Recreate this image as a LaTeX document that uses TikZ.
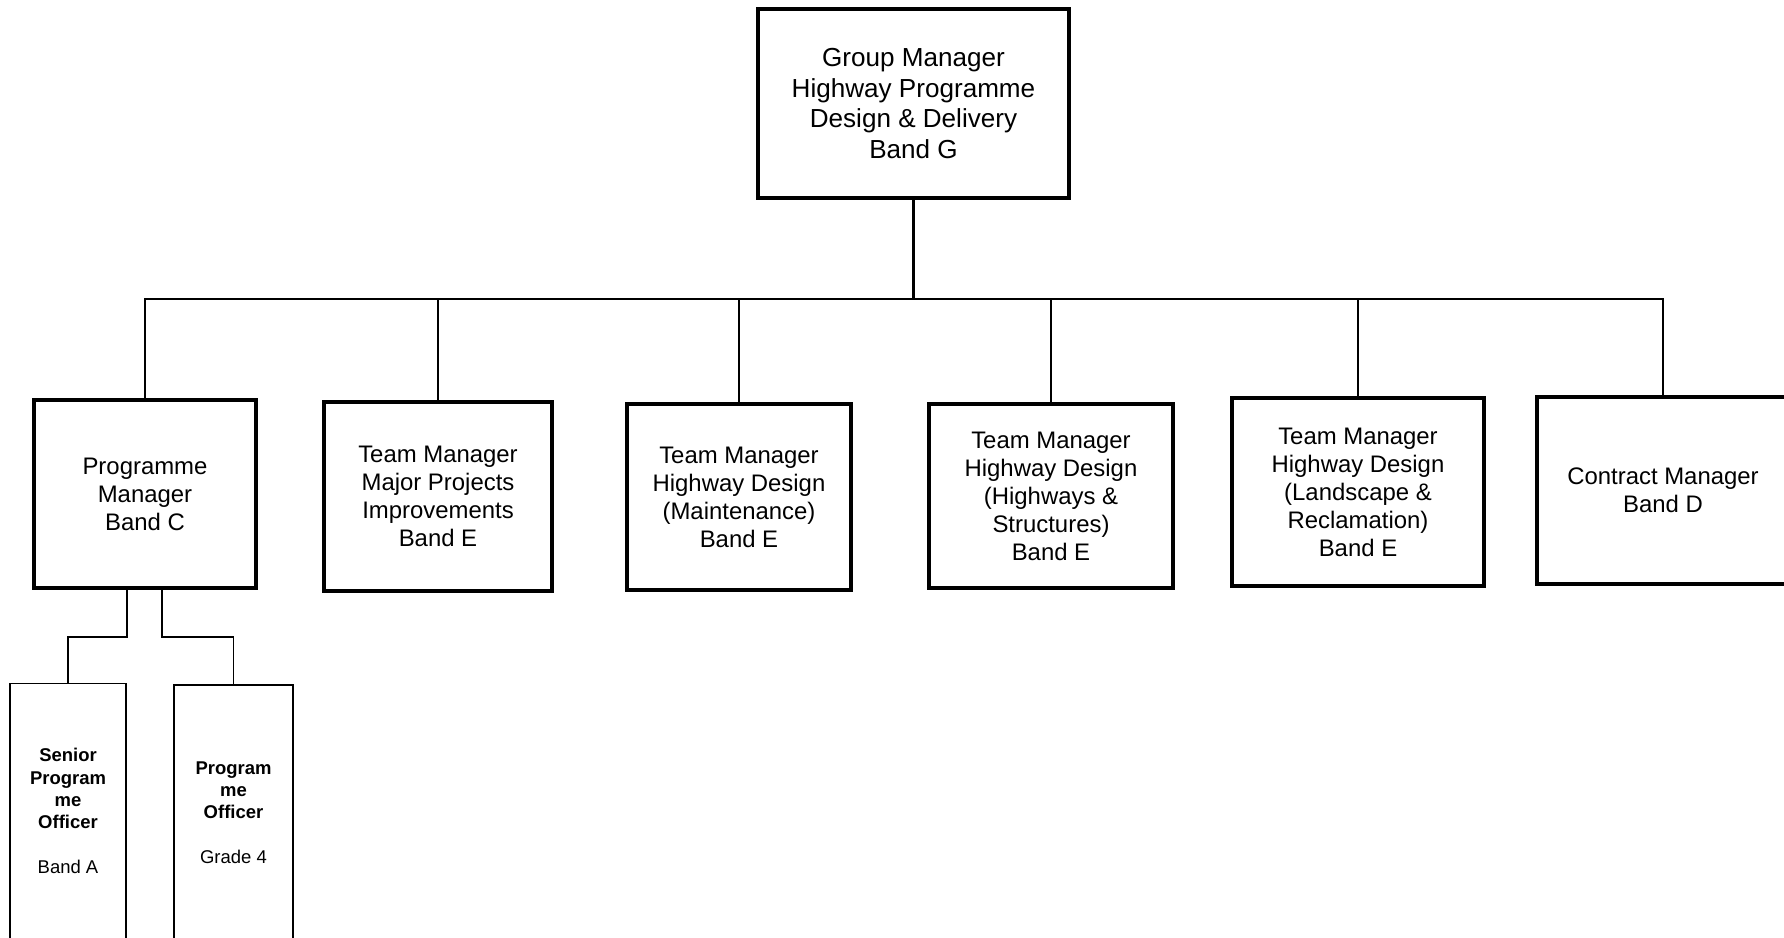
\documentclass[tikz,border=0pt]{standalone}
\usepackage{fontspec}
\setmainfont{Liberation Sans}
\tikzset{
  post/.style={draw, line width=1.9pt, align=center, inner sep=0pt,
    font=\fontsize{11}{12.9}\selectfont},
  subpost/.style={draw, line width=0.9pt, align=center, inner sep=0pt,
    font=\fontsize{8.5}{10.3}\selectfont},
  link/.style={line width=0.7pt}
}
\begin{document}
\begin{tikzpicture}[x=0.46pt, y=-0.46pt]
  \clip (0, 0) rectangle (1784, 937);
  % head of group
  \node[post, minimum width=143.2pt, minimum height=87pt,
    font=\fontsize{12}{14.1}\selectfont] (gm) at (913.5, 103.5)
    {Group Manager\\Highway Programme\\Design \& Delivery\\Band G};
  % second row
  \node[post, minimum width=102.2pt, minimum height=86.5pt] (pm) at (145, 494)
    {Programme\\Manager\\Band C};
  \node[post, minimum width=104.9pt, minimum height=87pt] (tmmp) at (438, 496.5)
    {Team Manager\\Major Projects\\Improvements\\Band E};
  \node[post, minimum width=103.1pt, minimum height=85.6pt] (tmhm) at (739, 497)
    {Team Manager\\Highway Design\\(Maintenance)\\Band E};
  \node[post, minimum width=112.3pt, minimum height=84.7pt] (tmhs) at (1051, 496)
    {Team Manager\\Highway Design\\(Highways \&\\Structures)\\Band E};
  \node[post, minimum width=116pt, minimum height=86.5pt] (tmhl) at (1358, 492)
    {Team Manager\\Highway Design\\(Landscape \&\\Reclamation)\\Band E};
  \node[post, minimum width=116pt, minimum height=86.1pt] (cm) at (1663, 490.5)
    {Contract Manager\\Band D};
  % officers
  \node[subpost, minimum width=53.4pt, minimum height=117.3pt] (spo) at (68, 811)
    {\textbf{Senior}\\\textbf{Program}\\\textbf{me}\\\textbf{Officer}\\[10.3pt]Band A};
  \node[subpost, minimum width=54.8pt, minimum height=117.3pt] (po) at (233.5, 812.5)
    {\textbf{Program}\\\textbf{me}\\\textbf{Officer}\\[10.3pt]Grade 4};
  % connectors
  \coordinate (hub) at (913.5, 299);
  \draw[line width=1.2pt] (gm.south) -- (hub);
  \foreach \n in {pm, tmmp, tmhm, tmhs, tmhl, cm}
    \draw[link] (hub) -| (\n.north);
  \draw[link] ([xshift=-8.3pt]pm.south) -- ++(0, 47) -| (spo.north);
  \draw[link] ([xshift=7.8pt]pm.south) -- ++(0, 47) -| (po.north);
\end{tikzpicture}
\end{document}
